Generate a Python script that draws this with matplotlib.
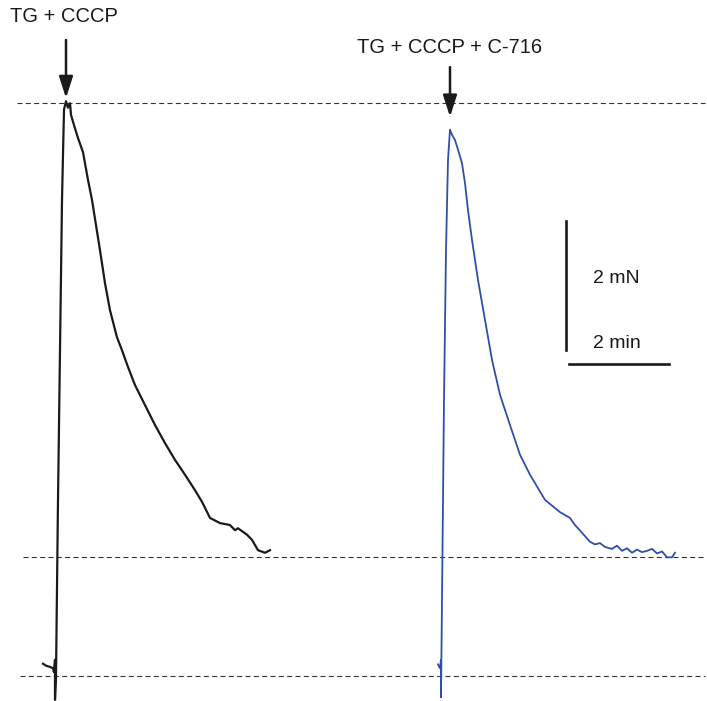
import matplotlib
matplotlib.use("Agg")
import matplotlib.pyplot as plt

plt.rcParams['font.family'] = ['Liberation Sans', 'DejaVu Sans']

# Control trace: TG + CCCP (time in min, force in mN)
t_ctrl = [0.86, 0.92, 1.00, 1.06, 1.08, 1.10, 1.10, 1.12, 1.16, 1.20,
          1.24, 1.28, 1.32, 1.36, 1.40, 1.42, 1.48, 1.56, 1.66, 1.76,
          1.84, 1.92, 2.00, 2.10, 2.20, 2.34, 2.44, 2.56, 2.70, 2.90,
          3.10, 3.30, 3.50, 3.70, 3.90, 4.04, 4.20, 4.40, 4.60, 4.70,
          4.76, 4.94, 5.04, 5.16, 5.30, 5.40]
f_ctrl = [0.19, 0.16, 0.14, 0.12, 0.06, 0.25, -0.37, 0.00, 2.73, 5.05,
          7.38, 8.78, 8.91, 8.81, 8.88, 8.70, 8.54, 8.34, 8.12, 7.69,
          7.38, 6.99, 6.60, 6.09, 5.67, 5.25, 5.05, 4.79, 4.51, 4.20,
          3.89, 3.61, 3.35, 3.12, 2.88, 2.70, 2.45, 2.37, 2.34, 2.26,
          2.29, 2.19, 2.11, 1.95, 1.91, 1.95]

# TG + CCCP + C-716 trace
t_c716 = [8.76, 8.80, 8.82, 8.82, 8.84, 8.88, 8.92, 8.96, 9.00, 9.04,
          9.10, 9.16, 9.24, 9.30, 9.36, 9.44, 9.56, 9.70, 9.84, 10.00,
          10.20, 10.40, 10.60, 10.90, 11.20, 11.40, 11.50, 11.64, 11.80, 11.90,
          12.00, 12.10, 12.24, 12.34, 12.44, 12.54, 12.64, 12.74, 12.84, 12.94,
          13.04, 13.14, 13.24, 13.34, 13.44, 13.50]
f_c716 = [0.18, 0.12, 0.25, -0.33, 1.18, 4.28, 6.60, 8.00, 8.47, 8.39,
          8.31, 8.16, 7.95, 7.64, 7.22, 6.76, 6.14, 5.52, 4.90, 4.36,
          3.89, 3.43, 3.12, 2.73, 2.54, 2.45, 2.34, 2.22, 2.08, 2.04,
          2.06, 2.00, 1.97, 2.02, 1.94, 1.98, 1.91, 1.96, 1.92, 1.94,
          1.97, 1.90, 1.93, 1.84, 1.84, 1.91]

# reference levels (mN)
levels = [8.88, 1.84, 0.0]
level_start = [0.34, 0.46, 0.40]

fig = plt.figure(figsize=(7.07, 7.01), dpi=100)
ax = fig.add_axes([0, 0, 1, 1])
ax.set_xlim(0, 14.14)
ax.set_ylim(-0.388, 10.48)
ax.axis('off')

for lv, x0 in zip(levels, level_start):
    ax.plot([x0, 14.1], [lv, lv], color='#333333', lw=0.8,
            linestyle=(0, (4.5, 3)))

ax.plot(t_ctrl, f_ctrl, color='#1a1a1a', lw=1.6)
ax.plot(t_c716, f_c716, color='#3050a8', lw=1.3)

# arrows + labels
arrow = dict(arrowstyle='-|>,head_width=0.42,head_length=1.3',
             color='#1a1a1a', lw=1.8, shrinkA=0, shrinkB=0)
ax.annotate('', xy=(1.32, 8.96), xytext=(1.32, 9.86), arrowprops=arrow)
ax.annotate('', xy=(9.00, 8.67), xytext=(9.00, 9.44), arrowprops=arrow)
ax.text(0.2, 10.22, 'TG + CCCP', fontsize=14.5, ha='left', va='center',
        color='#1a1a1a')
ax.text(9.0, 9.74, 'TG + CCCP + C-716', fontsize=14.5, ha='center',
        va='center', color='#1a1a1a')

# scale bars
ax.plot([11.32, 11.32], [5.05, 7.05], color='#1a1a1a', lw=1.9)
ax.plot([11.38, 13.38], [4.84, 4.84], color='#1a1a1a', lw=1.9)
ax.text(11.86, 6.17, '2 mN', fontsize=14, ha='left', va='center',
        color='#1a1a1a')
ax.text(11.86, 5.16, '2 min', fontsize=14, ha='left', va='center',
        color='#1a1a1a')

fig.savefig('out.png', dpi=100, facecolor='white')
